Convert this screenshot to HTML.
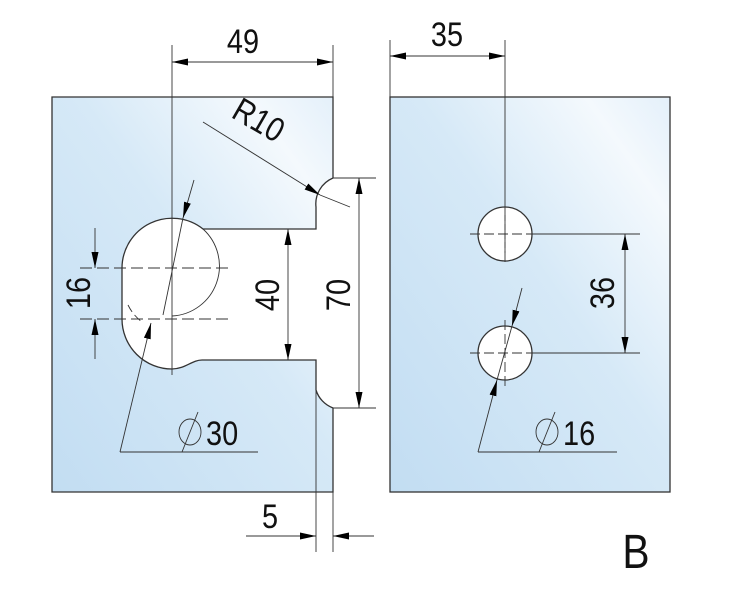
<!DOCTYPE html>
<html><head><meta charset="utf-8"><style>
html,body{margin:0;padding:0;background:#fff}
svg{display:block}
text{font-family:"Liberation Sans",sans-serif;fill:#111}
</style></head><body>
<svg width="750" height="615" viewBox="0 0 750 615" xmlns="http://www.w3.org/2000/svg">
<defs>
<linearGradient id="g1" x1="0" y1="1" x2="1" y2="0">
<stop offset="0" stop-color="#c2ddf2"/><stop offset="0.55" stop-color="#d6e9f7"/><stop offset="0.85" stop-color="#f4f9fd"/><stop offset="1" stop-color="#e4f0fa"/>
</linearGradient>
<marker id="a" viewBox="0 0 16 7" refX="16" refY="3.5" markerWidth="16" markerHeight="7" markerUnits="userSpaceOnUse" orient="auto-start-reverse">
<path d="M0,0 L16,3.5 L0,7 z" fill="#000"/></marker>
</defs>
<path d="M52,97 H333 V178 A28,28 0 0 0 316,207 V229 H203 A50,50 0 0 0 122,268 V319 A50,50 0 0 0 172,369 C185,369 192,360 202,360 H316 V390 A28,28 0 0 0 333,408 V492 H52 Z" fill="url(#g1)" stroke="#333" stroke-width="1.3"/>
<rect x="390" y="97" width="280" height="395" fill="url(#g1)" stroke="#333" stroke-width="1.3"/>
<circle cx="505" cy="234" r="27" fill="#fff" stroke="#333" stroke-width="1.3"/>
<circle cx="505" cy="353" r="27" fill="#fff" stroke="#333" stroke-width="1.3"/>
<g stroke="#333" stroke-width="0.9" fill="none">
<path d="M203,229 A50,50 0 0 1 172,316"/>
<path d="M128,305 A47,47 0 0 0 142,322" stroke-dasharray="8,4"/>
<line x1="172" y1="45" x2="172" y2="375"/>
<line x1="80" y1="268" x2="230" y2="268" stroke-dasharray="12,5"/>
<line x1="80" y1="319" x2="230" y2="319" stroke-dasharray="12,5"/>
<line x1="333" y1="45" x2="333" y2="97"/>
<line x1="172" y1="62" x2="333" y2="62" marker-start="url(#a)" marker-end="url(#a)"/>
<line x1="95" y1="228" x2="95" y2="268" marker-end="url(#a)"/>
<line x1="95" y1="359" x2="95" y2="319" marker-end="url(#a)"/>
<line x1="288" y1="229" x2="288" y2="360" marker-start="url(#a)" marker-end="url(#a)"/>
<line x1="333" y1="178" x2="376" y2="178"/>
<line x1="333" y1="408" x2="376" y2="408"/>
<line x1="359" y1="178" x2="359" y2="408" marker-start="url(#a)" marker-end="url(#a)"/>
<line x1="203" y1="122" x2="320" y2="195" marker-end="url(#a)"/>
<line x1="320" y1="195" x2="350" y2="207"/>
<line x1="194" y1="180" x2="183" y2="218" marker-end="url(#a)"/>
<line x1="183" y1="218" x2="163" y2="315"/>
<line x1="120" y1="452" x2="151" y2="323" marker-end="url(#a)"/>
<line x1="120" y1="452" x2="258" y2="452"/>
<line x1="316" y1="360" x2="316" y2="552"/>
<line x1="333" y1="492" x2="333" y2="552"/>
<line x1="246" y1="536" x2="316" y2="536" marker-end="url(#a)"/>
<line x1="374" y1="536" x2="333" y2="536" marker-end="url(#a)"/>
<line x1="390" y1="40" x2="390" y2="97"/>
<line x1="505" y1="40" x2="505" y2="262"/>
<line x1="390" y1="56" x2="505" y2="56" marker-start="url(#a)" marker-end="url(#a)"/>
<line x1="470" y1="234" x2="540" y2="234" stroke-dasharray="10,4"/>
<line x1="470" y1="353" x2="540" y2="353" stroke-dasharray="10,4"/>
<line x1="505" y1="320" x2="505" y2="387" stroke-dasharray="10,4"/>
<line x1="532" y1="234" x2="640" y2="234"/>
<line x1="532" y1="353" x2="640" y2="353"/>
<line x1="625" y1="234" x2="625" y2="353" marker-start="url(#a)" marker-end="url(#a)"/>
<line x1="522" y1="288" x2="512" y2="326" marker-end="url(#a)"/>
<line x1="512" y1="326" x2="497" y2="380"/>
<line x1="478" y1="452" x2="497" y2="380" marker-end="url(#a)"/>
<line x1="478" y1="452" x2="617" y2="452"/>
<ellipse cx="190" cy="432" rx="11" ry="13"/>
<line x1="182" y1="452" x2="198" y2="412"/>
<ellipse cx="547" cy="432" rx="11" ry="13"/>
<line x1="539" y1="452" x2="555" y2="412"/>
</g>
<line x1="505" y1="215" x2="505" y2="253" stroke="#333" stroke-width="0.9" stroke-dasharray="6,3"/>
<g font-size="34">
<text transform="translate(243,53) scale(0.85,1)" text-anchor="middle">49</text>
<text transform="translate(447,46) scale(0.85,1)" text-anchor="middle">35</text>
<text transform="translate(206,445) scale(0.85,1)">30</text>
<text transform="translate(563,445) scale(0.85,1)">16</text>
<text transform="translate(270,528) scale(0.85,1)" text-anchor="middle">5</text>
<text transform="translate(90,293) rotate(-90) scale(0.85,1)" text-anchor="middle">16</text>
<text transform="translate(279,295) rotate(-90) scale(0.85,1)" text-anchor="middle">40</text>
<text transform="translate(350,295) rotate(-90) scale(0.85,1)" text-anchor="middle">70</text>
<text transform="translate(614,293) rotate(-90) scale(0.85,1)" text-anchor="middle">36</text>
<text transform="translate(253,130) rotate(30) scale(0.85,1)" text-anchor="middle">R10</text>
</g>
<text transform="translate(636,568) scale(0.85,1)" font-size="48" text-anchor="middle">B</text>
</svg>
</body></html>
